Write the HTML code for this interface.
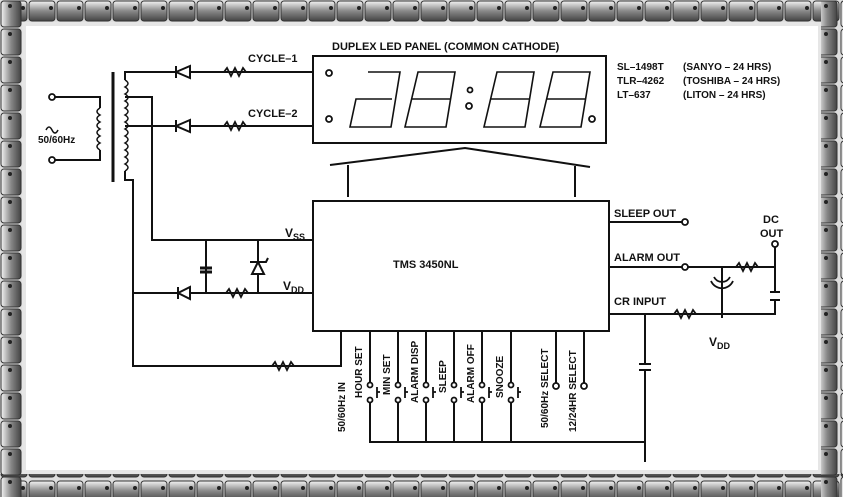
<!DOCTYPE html>
<html><head><style>
body{margin:0;width:843px;height:497px;overflow:hidden;background:#fff}
svg{display:block}
text{font-family:"Liberation Sans",sans-serif;font-weight:bold;fill:#111}
</style></head><body>
<svg width="843" height="497" viewBox="0 0 843 497" xmlns="http://www.w3.org/2000/svg">
<defs>
<linearGradient id="gh" x1="0" y1="0" x2="0" y2="1"><stop offset="0" stop-color="#f4f4f4"/><stop offset=".5" stop-color="#888"/><stop offset="1" stop-color="#444"/></linearGradient>
<linearGradient id="gv" x1="0" y1="0" x2="1" y2="0"><stop offset="0" stop-color="#f4f4f4"/><stop offset=".5" stop-color="#888"/><stop offset="1" stop-color="#444"/></linearGradient>
<pattern id="ph" width="28" height="24" patternUnits="userSpaceOnUse"><rect x="1" y="1" width="26" height="20" rx="3" fill="url(#gh)" stroke="#333"/><circle cx="23" cy="8" r="2" fill="#222"/></pattern>
<pattern id="pv" width="24" height="28" patternUnits="userSpaceOnUse"><rect x="1" y="1" width="20" height="26" rx="3" fill="url(#gv)" stroke="#333"/><circle cx="10" cy="6" r="2" fill="#222"/></pattern>
</defs>
<rect x="0" y="0" width="843" height="497" fill="#ddd"/>
<rect x="0" y="0" width="843" height="22" fill="url(#ph)"/>
<rect x="0" y="474" width="843" height="23" fill="url(#ph)"/>
<rect x="0" y="0" width="22" height="497" fill="url(#pv)"/>
<rect x="821" y="0" width="22" height="497" fill="url(#pv)"/>
<rect x="22" y="22" width="799" height="452" fill="#e6e6e6"/>
<rect x="26" y="26" width="792" height="444" fill="#fff"/>
<g stroke="#111" stroke-width="2" fill="none">
<!-- transformer -->
<line x1="113" y1="72" x2="113" y2="182" stroke-width="3"/>
<path d="M52 97H100V108M52 160H100V150"/>
<path d="M100 108 q-6 3.5 0 7 q-6 3.5 0 7 q-6 3.5 0 7 q-6 3.5 0 7 q-6 3.5 0 7 q-6 3.5 0 7" stroke-width="1.5"/>
<path d="M125 80 q6 3.5 0 7 q6 3.5 0 7 q6 3.5 0 7 q6 3.5 0 7 q6 3.5 0 7 q6 3.5 0 7 q6 3.5 0 7 q6 3.5 0 7 q6 3.5 0 7 q6 3.5 0 7 q6 3.5 0 7 q6 3.5 0 7 q6 3.5 0 7" stroke-width="1.5"/>
<path d="M125 80V72H313M125 126H313M125 97H152V240H313M125 171V180H133V366H341V331"/>
<path d="M133 293H313M206 240V293M258 240V293"/>
<!-- panel -->
<rect x="313" y="56" width="293" height="87"/>
<path d="M330 165L465 148L590 167M348 165V197M575 166V197"/>
<rect x="313" y="201" width="296" height="130"/>
<!-- pins -->
<path d="M370 331V382M398 331V382M426 331V382M454 331V382M482 331V382M511 331V382M556 331V383M584 331V383"/>
<path d="M370 402V442H645M398 402V442M426 402V442M454 402V442M482 402V442M511 402V442"/>
<path d="M609 222H685M609 267H775M609 314H775V300M775 292V247M722 267V318M645 314V364M645 370V462"/>
<path d="M770 292H780M770 300H780M639 364H651M639 370H651" stroke-width="2"/>
<path d="M200 268H212M200 272H212" stroke-width="3"/>
</g>
<g fill="#111" stroke="#111">
<path d="M176 72L190 66V78Z" fill="#fff" stroke-width="2"/><line x1="176" y1="66" x2="176" y2="78" stroke-width="2"/>
<path d="M176 126L190 120V132Z" fill="#fff" stroke-width="2"/><line x1="176" y1="120" x2="176" y2="132" stroke-width="2"/>
<path d="M178 293L190 287V299Z" fill="#fff" stroke-width="2"/><line x1="178" y1="287" x2="178" y2="299" stroke-width="2"/>
<path d="M258 262L252 274H264Z" fill="#fff" stroke-width="2"/><path d="M250 262H266L268 258" stroke-width="2" fill="none"/>
</g>
<g stroke="#111" stroke-width="1.8" fill="#fff">
<path d="M224 72l3-4 4 8 4-8 4 8 4-8 3 4" fill="none"/>
<path d="M224 126l3-4 4 8 4-8 4 8 4-8 3 4" fill="none"/>
<path d="M226 293l3-4 4 8 4-8 4 8 4-8 3 4" fill="none"/>
<path d="M272 366l3-4 4 8 4-8 4 8 4-8 3 4" fill="none"/>
<path d="M736 267l3-4 4 8 4-8 4 8 4-8 3 4" fill="none"/>
<path d="M674 314l3-4 4 8 4-8 4 8 4-8 3 4" fill="none"/>
<path d="M714 277a9 9 0 0 0 16 0M711 281a12 12 0 0 0 22 0" fill="none"/>
<circle cx="52" cy="97" r="3"/><circle cx="52" cy="160" r="3"/>
<circle cx="685" cy="222" r="3"/><circle cx="685" cy="267" r="3"/><circle cx="775" cy="244" r="3"/>
<circle cx="556" cy="386" r="3"/><circle cx="584" cy="386" r="3"/>
<circle cx="329" cy="73" r="3"/><circle cx="329" cy="119" r="3"/><circle cx="470" cy="90" r="2.5"/><circle cx="469" cy="106" r="3"/><circle cx="592" cy="119" r="3"/>
</g>
<g stroke="#111" stroke-width="1.8" fill="#fff">
<circle cx="370" cy="385" r="2.5"/><circle cx="370" cy="400" r="2.5"/><path d="M377 387V398M377 392H380" fill="none"/>
<circle cx="398" cy="385" r="2.5"/><circle cx="398" cy="400" r="2.5"/><path d="M405 387V398M405 392H408" fill="none"/>
<circle cx="426" cy="385" r="2.5"/><circle cx="426" cy="400" r="2.5"/><path d="M433 387V398M433 392H436" fill="none"/>
<circle cx="454" cy="385" r="2.5"/><circle cx="454" cy="400" r="2.5"/><path d="M461 387V398M461 392H464" fill="none"/>
<circle cx="482" cy="385" r="2.5"/><circle cx="482" cy="400" r="2.5"/><path d="M489 387V398M489 392H492" fill="none"/>
<circle cx="511" cy="385" r="2.5"/><circle cx="511" cy="400" r="2.5"/><path d="M518 387V398M518 392H521" fill="none"/>
</g>
<!-- digits -->
<g stroke="#111" stroke-width="1.6" fill="none">
<path d="M368 72H400L391 127H350L356 99H392"/>
<path d="M418 72H455L446 127H405ZM411 99H451"/>
<path d="M497 72H534L525 127H484ZM490 99H530"/>
<path d="M553 72H590L581 127H540ZM546 99H586"/>
</g>
<text x="332" y="50" font-size="11">DUPLEX LED PANEL (COMMON CATHODE)</text>
<text x="248" y="62" font-size="11">CYCLE–1</text>
<text x="248" y="117" font-size="11">CYCLE–2</text>
<g font-size="10"><text x="617" y="70">SL–1498T</text><text x="683" y="70">(SANYO – 24 HRS)</text>
<text x="617" y="84">TLR–4262</text><text x="683" y="84">(TOSHIBA – 24 HRS)</text>
<text x="617" y="98">LT–637</text><text x="683" y="98">(LITON – 24 HRS)</text></g>
<text x="38" y="143" font-size="10">50/60Hz</text>
<path d="M46 130q3-6 6 0t6 0" stroke="#111" fill="none" stroke-width="1.5"/>
<text x="393" y="268" font-size="11">TMS 3450NL</text>
<text x="285" y="237" font-size="12">V<tspan font-size="9" dy="3">SS</tspan></text>
<text x="283" y="290" font-size="12">V<tspan font-size="9" dy="3">DD</tspan></text>
<text x="614" y="217" font-size="11">SLEEP OUT</text>
<text x="614" y="261" font-size="11">ALARM OUT</text>
<text x="614" y="305" font-size="11">CR INPUT</text>
<text x="763" y="223" font-size="11">DC</text>
<text x="760" y="237" font-size="11">OUT</text>
<text x="709" y="346" font-size="12">V<tspan font-size="9" dy="3">DD</tspan></text>
<g font-size="10">
<text transform="translate(345,432) rotate(-90)">50/60Hz IN</text>
<text transform="translate(362,398) rotate(-90)">HOUR SET</text>
<text transform="translate(390,395) rotate(-90)">MIN SET</text>
<text transform="translate(418,403) rotate(-90)">ALARM DISP</text>
<text transform="translate(446,393) rotate(-90)">SLEEP</text>
<text transform="translate(474,403) rotate(-90)">ALARM OFF</text>
<text transform="translate(503,398) rotate(-90)">SNOOZE</text>
<text transform="translate(548,428) rotate(-90)">50/60Hz SELECT</text>
<text transform="translate(576,432) rotate(-90)">12/24HR SELECT</text>
</g>
</svg>
</body></html>
